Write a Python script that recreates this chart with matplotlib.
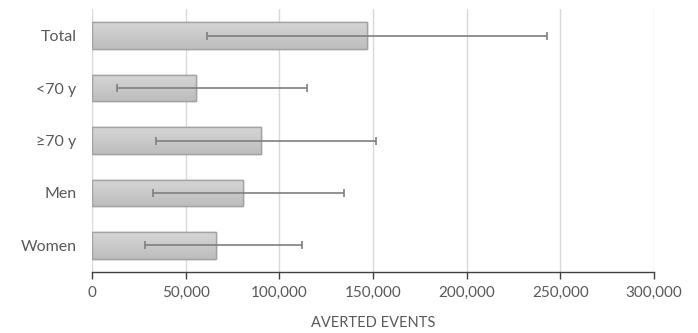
import matplotlib
matplotlib.use("Agg")
import matplotlib.pyplot as plt
import numpy as np
from matplotlib.ticker import FuncFormatter

categories = ["Total", "<70 y", "≥70 y", "Men", "Women"]
averted = [147000, 55300, 90000, 80600, 66200]
ci_low = [61200, 13200, 34000, 32400, 28100]
ci_high = [242700, 114600, 151400, 134700, 112100]
x_ticks = [0, 50000, 100000, 150000, 200000, 250000, 300000]

plt.rcParams["font.family"] = ["Lato", "DejaVu Sans"]

fig = plt.figure(figsize=(6.98, 3.33), dpi=100)
ax = fig.add_axes([92 / 698, 61.3 / 333, 562 / 698, 262.4 / 333])

y = np.arange(len(categories))
vals = np.array(averted)
err = np.array([vals - np.array(ci_low), np.array(ci_high) - vals])

bars = ax.barh(y, vals, height=0.5, color="#c9c9c9", edgecolor="#a3a3a3",
               linewidth=1.0, zorder=2)

# vertical gradient inside each bar
cmap = matplotlib.colors.LinearSegmentedColormap.from_list(
    "g", ["#d6d6d6", "#bdbdbd"])
grad = np.linspace(0, 1, 64).reshape(-1, 1)
for b in bars:
    x0, y0 = b.get_x(), b.get_y()
    w, h = b.get_width(), b.get_height()
    im = ax.imshow(grad, extent=[x0, x0 + w, y0 + h, y0], aspect="auto",
                   cmap=cmap, zorder=2.1, origin="upper")
    im.set_clip_path(b)
    ax.add_patch(matplotlib.patches.Rectangle((x0, y0), w, h, fill=False,
                 edgecolor="#a3a3a3", linewidth=1.0, zorder=2.2))

ax.errorbar(vals, y, xerr=err, fmt="none", ecolor="#7f7f7f", elinewidth=1.2,
            capsize=3.2, capthick=1.2, zorder=3)

ax.set_ylim(len(categories) - 0.5, -0.5)
ax.set_xlim(0, 300000)
ax.set_xticks(x_ticks)
ax.xaxis.set_major_formatter(FuncFormatter(lambda v, p: f"{int(v):,}"))
ax.set_yticks(y)
ax.set_yticklabels(categories)

ax.grid(axis="x", color="#d9d9d9", linewidth=1.0, zorder=0)
ax.set_axisbelow(True)
for s in ["top", "right", "left"]:
    ax.spines[s].set_visible(False)
ax.spines["bottom"].set_color("#404040")
ax.spines["bottom"].set_linewidth(1.0)
ax.tick_params(axis="x", colors="#404040", length=5, width=1.0,
               labelcolor="#595959", labelsize=11, pad=5)
ax.tick_params(axis="y", length=0, labelcolor="#595959", labelsize=11.5,
               pad=11)

ax.set_xlabel("AVERTED EVENTS", color="#595959", fontsize=10.5, labelpad=12)

fig.savefig("out.png", dpi=100)
